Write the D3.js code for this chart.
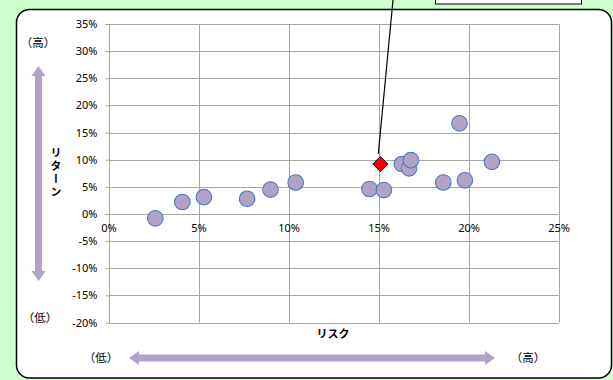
<!DOCTYPE html>
<html>
<head>
<meta charset="utf-8">
<script src="https://cdn.jsdelivr.net/npm/d3@7"></script>
<style>
  html, body { margin: 0; padding: 0; background: #ccffcc; }
  svg { display: block; }
</style>
</head>
<body>
<svg id="chart" width="613" height="380"></svg>
<script>
// Risk (x) and return (y) of each fund, in percent
const riskValues   = [2.6, 4.1, 5.3, 7.7, 9.0, 10.4, 14.5, 15.3, 16.3, 16.7, 16.8, 18.6, 19.5, 19.8, 21.3];
const returnValues = [-0.8, 2.2, 3.1, 2.8, 4.5, 5.8, 4.6, 4.4, 9.2, 8.4, 9.9, 5.8, 16.7, 6.2, 9.6];
// Highlighted portfolio
const highlightRisk = [15.1];
const highlightReturn = [9.2];
// Axis ticks
const xTicks = [0, 5, 10, 15, 20, 25];
const yTicks = [-20, -15, -10, -5, 0, 5, 10, 15, 20, 25, 30, 35];

const svg = d3.select("#chart");
const numFont = "'Noto Sans', 'DejaVu Sans', sans-serif";
const jpFont = "'Noto Sans CJK JP', sans-serif";
const lavender = "#b3a2c7";

// Panel background
svg.append("rect")
  .attr("x", 16.5).attr("y", 9.5).attr("width", 595).attr("height", 368.5)
  .attr("rx", 13).attr("ry", 13)
  .attr("fill", "#ffffff").attr("stroke", "#000").attr("stroke-width", 1.5);

// Callout box at the top (partly outside the view)
svg.append("rect")
  .attr("x", 435.5).attr("y", -20).attr("width", 146).attr("height", 24)
  .attr("fill", "#fff").attr("stroke", "#000").attr("stroke-width", 1);

const x = d3.scaleLinear().domain([0, 25]).range([108.5, 558.5]);
const y = d3.scaleLinear().domain([-20, 35]).range([322.5, 24]);

// Gridlines
const grid = svg.append("g").attr("stroke", "#a6a6a6").attr("stroke-width", 1);
grid.selectAll("line.h").data(yTicks).join("line")
  .attr("x1", x(0)).attr("x2", x(25))
  .attr("y1", d => Math.round(y(d)) + 0.5).attr("y2", d => Math.round(y(d)) + 0.5);
grid.selectAll("line.v").data(xTicks).join("line")
  .attr("y1", y(35)).attr("y2", y(-20))
  .attr("x1", d => Math.round(x(d)) + 0.5).attr("x2", d => Math.round(x(d)) + 0.5);

// Y axis with percent labels
const yAxis = d3.axisLeft(y).tickValues(yTicks).tickSize(4).tickPadding(8)
  .tickFormat(d => d + "%");
svg.append("g").attr("transform", `translate(${Math.round(x(0)) + 0.5},0)`)
  .call(yAxis)
  .call(g => g.select(".domain").remove())
  .call(g => g.selectAll(".tick line").attr("stroke", "#a6a6a6"))
  .call(g => g.selectAll("text").attr("font-family", numFont).attr("font-size", 11).attr("fill", "#000"));

// X axis labels sit just under the zero line
const xAxis = d3.axisBottom(x).tickValues(xTicks).tickSize(0).tickPadding(10)
  .tickFormat(d => d + "%");
svg.append("g").attr("transform", `translate(0,${y(0)})`)
  .call(xAxis)
  .call(g => g.select(".domain").remove())
  .call(g => g.selectAll("text").attr("font-family", numFont).attr("font-size", 11).attr("fill", "#000"));

// Leader line from the highlighted point to the callout
svg.append("line")
  .attr("x1", x(highlightRisk[0]) - 2).attr("y1", y(highlightReturn[0]) - 10)
  .attr("x2", 393).attr("y2", 0)
  .attr("stroke", "#000").attr("stroke-width", 1.2);

// Fund points
const pts = riskValues.map((r, i) => ({ r, v: returnValues[i] }));
svg.append("g").selectAll("circle").data(pts).join("circle")
  .attr("cx", d => x(d.r)).attr("cy", d => y(d.v)).attr("r", 7.8)
  .attr("fill", lavender).attr("stroke", "#4a7ebb").attr("stroke-width", 1.1);

// Highlighted portfolio (diamond)
svg.append("g").selectAll("path").data(highlightRisk.map((r, i) => ({ r, v: highlightReturn[i] }))).join("path")
  .attr("transform", d => `translate(${x(d.r)},${y(d.v)})`)
  .attr("d", "M0,-7.5L7.5,0L0,7.5L-7.5,0Z")
  .attr("fill", "#ff0000").attr("stroke", "#000").attr("stroke-width", 1);

// Axis titles
svg.append("text").attr("x", 333).attr("y", 338).attr("text-anchor", "middle")
  .attr("font-family", jpFont).attr("font-weight", "bold").attr("font-size", 11)
  .text("リスク");
svg.append("text").attr("x", 56).attr("y", 147)
  .attr("writing-mode", "vertical-rl")
  .attr("font-family", jpFont).attr("font-weight", "bold").attr("font-size", 11)
  .attr("letter-spacing", 2)
  .text("リターン");

// Direction arrows
function arrowV(cx, y0, y1) {
  const w = 3.5, hw = 7, hl = 10;
  return `M${cx},${y0}L${cx + hw},${y0 + hl}L${cx + w},${y0 + hl}L${cx + w},${y1 - hl}L${cx + hw},${y1 - hl}` +
         `L${cx},${y1}L${cx - hw},${y1 - hl}L${cx - w},${y1 - hl}L${cx - w},${y0 + hl}L${cx - hw},${y0 + hl}Z`;
}
function arrowH(cy, x0, x1) {
  const w = 3.5, hw = 7, hl = 10;
  return `M${x0},${cy}L${x0 + hl},${cy - hw}L${x0 + hl},${cy - w}L${x1 - hl},${cy - w}L${x1 - hl},${cy - hw}` +
         `L${x1},${cy}L${x1 - hl},${cy + hw}L${x1 - hl},${cy + w}L${x0 + hl},${cy + w}L${x0 + hl},${cy + hw}Z`;
}
svg.append("path").attr("d", arrowV(38.5, 66, 281)).attr("fill", lavender);
svg.append("path").attr("d", arrowH(358, 129, 495)).attr("fill", lavender);

const sideLabels = [
  { t: "（高）", x: 38, y: 47 },
  { t: "（低）", x: 40, y: 322 },
  { t: "（低）", x: 101, y: 362 },
  { t: "（高）", x: 528, y: 362 }
];
svg.append("g").selectAll("text").data(sideLabels).join("text")
  .attr("x", d => d.x).attr("y", d => d.y).attr("text-anchor", "middle")
  .attr("font-family", jpFont).attr("font-size", 11.5).attr("fill", "#000")
  .text(d => d.t);
</script>
</body>
</html>
